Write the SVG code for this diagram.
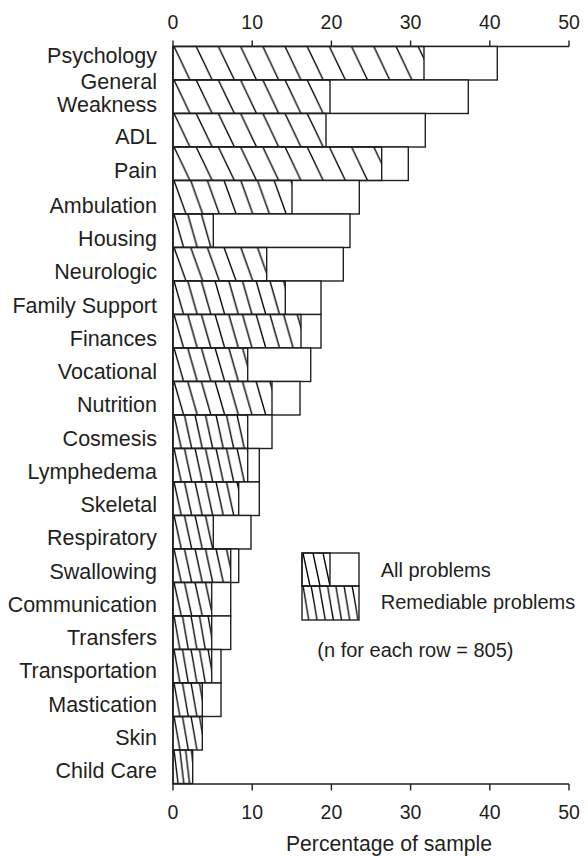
<svg xmlns="http://www.w3.org/2000/svg" width="588" height="856" viewBox="0 0 588 856">
<style>
text{font-family:"Liberation Sans",Arial,sans-serif;fill:#231f20}
.lab{font-size:21.5px;text-anchor:end}
.tick{font-size:19.5px;text-anchor:middle}
.leg{font-size:20px}
.bar{fill:#fff;stroke:#231f20;stroke-width:1.4}
.ax{stroke:#231f20;stroke-width:1.4;fill:none}
.h{stroke:#000;stroke-width:1.35;fill:none}
</style>
<defs>
<pattern id="p22" patternUnits="userSpaceOnUse" x="173" y="46.5" width="22.2" height="33.5"><path class="h" d="M1,0L17,33.5M-21.2,0L-5.2,33.5M23.2,0L39.2,33.5"/></pattern>
<pattern id="p17" patternUnits="userSpaceOnUse" x="173" y="46.5" width="16.7" height="33.5"><path class="h" d="M1,0L13,33.5M-15.7,0L-3.7,33.5M17.7,0L29.7,33.5"/></pattern>
<pattern id="p14" patternUnits="userSpaceOnUse" x="173" y="46.5" width="13.7" height="33.5"><path class="h" d="M1,0L10.6,33.5M-12.7,0L-3.1,33.5M14.7,0L24.3,33.5"/></pattern>
<pattern id="p11" patternUnits="userSpaceOnUse" x="173" y="46.5" width="10.5" height="33.5"><path class="h" d="M1,0L8.3,33.5M-9.5,0L-2.2,33.5M11.5,0L18.8,33.5"/></pattern>
<pattern id="p9" patternUnits="userSpaceOnUse" x="173" y="46.5" width="8.5" height="33.5"><path class="h" d="M1,0L6.9,33.5M-7.5,0L-1.6,33.5M9.5,0L15.4,33.5"/></pattern>
<pattern id="p6" patternUnits="userSpaceOnUse" x="173" y="46.5" width="5.8" height="33.5"><path class="h" d="M1,0L5,33.5M-4.8,0L-0.8,33.5M6.8,0L10.8,33.5"/></pattern>
<pattern id="lg1" patternUnits="userSpaceOnUse" x="302" y="553" width="10" height="33" ><path class="h" d="M1,0L8,33M-9,0L-2,33M11,0L18,33"/></pattern>
<pattern id="lg2" patternUnits="userSpaceOnUse" x="302" y="586" width="8.2" height="34"><path class="h" d="M1,0L6.8,34M-7.2,0L-1.4,34M9.2,0L15,34"/></pattern>
</defs>

<g id="axes">
<path class="ax" d="M173,46.5H569M173,40.5V46.5M252.2,40.5V46.5M331.4,40.5V46.5M410.6,40.5V46.5M489.8,40.5V46.5M569,40.5V46.5"/>
<path class="ax" d="M173,784H569M173,784V790.5M252.2,784V790.5M331.4,784V790.5M410.6,784V790.5M489.8,784V790.5M569,784V790.5"/>
<path class="ax" d="M173,46.5V784"/>
<text class="tick" x="173" y="29.3">0</text><text class="tick" x="252.2" y="29.3">10</text><text class="tick" x="331.4" y="29.3">20</text><text class="tick" x="410.6" y="29.3">30</text><text class="tick" x="489.8" y="29.3">40</text><text class="tick" x="569" y="29.3">50</text>
<text class="tick" x="173" y="818.5">0</text><text class="tick" x="252.2" y="818.5">10</text><text class="tick" x="331.4" y="818.5">20</text><text class="tick" x="410.6" y="818.5">30</text><text class="tick" x="489.8" y="818.5">40</text><text class="tick" x="569" y="818.5">50</text>
<text x="389" y="851" style="font-size:21.2px;text-anchor:middle">Percentage of sample</text>
</g>

<g id="connectors"></g>

<g id="psychology"><text class="lab" x="157" y="62.7">Psychology</text><rect class="bar" x="173" y="46.5" width="324.3" height="33.5"/><rect class="bar" style="fill:url(#p22)" x="173" y="46.5" width="251" height="33.5"/></g>
<g id="general-weakness"><text class="lab" x="157" y="89.3">General</text><text class="lab" x="157" y="111.7">Weakness</text><rect class="bar" x="173" y="80" width="295.3" height="33.5"/><rect class="bar" style="fill:url(#p22)" x="173" y="80" width="157" height="33.5"/></g>
<g id="adl"><text class="lab" x="157" y="144">ADL</text><rect class="bar" x="173" y="113.5" width="252.3" height="33.5"/><rect class="bar" style="fill:url(#p22)" x="173" y="113.5" width="153" height="33.5"/></g>
<g id="pain"><text class="lab" x="157" y="178">Pain</text><rect class="bar" x="173" y="147" width="235.3" height="33.5"/><rect class="bar" style="fill:url(#p22)" x="173" y="147" width="208.7" height="33.5"/></g>
<g id="ambulation"><text class="lab" x="157" y="212.7">Ambulation</text><rect class="bar" x="173" y="180.5" width="186.3" height="33.5"/><rect class="bar" style="fill:url(#p17)" x="173" y="180.5" width="119" height="33.5"/></g>
<g id="housing"><text class="lab" x="157" y="246">Housing</text><rect class="bar" x="173" y="214" width="177" height="33.5"/><rect class="bar" style="fill:url(#p14)" x="173" y="214" width="40.3" height="33.5"/></g>
<g id="neurologic"><text class="lab" x="157" y="279.2">Neurologic</text><rect class="bar" x="173" y="247.5" width="170.3" height="33.5"/><rect class="bar" style="fill:url(#p17)" x="173" y="247.5" width="93.7" height="33.5"/></g>
<g id="family-support"><text class="lab" x="157" y="312.5">Family Support</text><rect class="bar" x="173" y="281" width="148" height="33.5"/><rect class="bar" style="fill:url(#p14)" x="173" y="281" width="112.3" height="33.5"/></g>
<g id="finances"><text class="lab" x="157" y="345.7">Finances</text><rect class="bar" x="173" y="314.5" width="148" height="33.5"/><rect class="bar" style="fill:url(#p14)" x="173" y="314.5" width="128" height="33.5"/></g>
<g id="vocational"><text class="lab" x="157" y="379">Vocational</text><rect class="bar" x="173" y="348" width="137.7" height="33.5"/><rect class="bar" style="fill:url(#p14)" x="173" y="348" width="74.7" height="33.5"/></g>
<g id="nutrition"><text class="lab" x="157" y="412.2">Nutrition</text><rect class="bar" x="173" y="381.5" width="127" height="33.5"/><rect class="bar" style="fill:url(#p14)" x="173" y="381.5" width="99" height="33.5"/></g>
<g id="cosmesis"><text class="lab" x="157" y="445.5">Cosmesis</text><rect class="bar" x="173" y="415" width="99" height="33.5"/><rect class="bar" style="fill:url(#p11)" x="173" y="415" width="74.7" height="33.5"/></g>
<g id="lymphedema"><text class="lab" x="157" y="478.7">Lymphedema</text><rect class="bar" x="173" y="448.5" width="86.3" height="33.5"/><rect class="bar" style="fill:url(#p11)" x="173" y="448.5" width="74.7" height="33.5"/></g>
<g id="skeletal"><text class="lab" x="157" y="512">Skeletal</text><rect class="bar" x="173" y="482" width="86.3" height="33.5"/><rect class="bar" style="fill:url(#p11)" x="173" y="482" width="65.7" height="33.5"/></g>
<g id="respiratory"><text class="lab" x="157" y="545.2">Respiratory</text><rect class="bar" x="173" y="515.5" width="78" height="33.5"/><rect class="bar" style="fill:url(#p11)" x="173" y="515.5" width="40.3" height="33.5"/></g>
<g id="swallowing"><text class="lab" x="157" y="578.5">Swallowing</text><rect class="bar" x="173" y="549" width="65.7" height="33.5"/><rect class="bar" style="fill:url(#p11)" x="173" y="549" width="57.7" height="33.5"/></g>
<g id="communication"><text class="lab" x="157" y="611.7">Communication</text><rect class="bar" x="173" y="582.5" width="57.7" height="33.5"/><rect class="bar" style="fill:url(#p11)" x="173" y="582.5" width="38.7" height="33.5"/></g>
<g id="transfers"><text class="lab" x="157" y="645">Transfers</text><rect class="bar" x="173" y="616" width="57.7" height="33.5"/><rect class="bar" style="fill:url(#p9)" x="173" y="616" width="38.7" height="33.5"/></g>
<g id="transportation"><text class="lab" x="157" y="678.2">Transportation</text><rect class="bar" x="173" y="649.5" width="48" height="33.5"/><rect class="bar" style="fill:url(#p9)" x="173" y="649.5" width="38.7" height="33.5"/></g>
<g id="mastication"><text class="lab" x="157" y="711.5">Mastication</text><rect class="bar" x="173" y="683" width="48" height="33.5"/><rect class="bar" style="fill:url(#p9)" x="173" y="683" width="29.3" height="33.5"/></g>
<g id="skin"><text class="lab" x="157" y="744.7">Skin</text><rect class="bar" style="fill:url(#p9)" x="173" y="716.5" width="29.3" height="33.5"/></g>
<g id="child-care"><text class="lab" x="157" y="778">Child Care</text><rect class="bar" style="fill:url(#p6)" x="173" y="750" width="19.7" height="33.5"/></g>

<g id="legend">
<rect class="bar" x="302" y="553" width="57" height="33"/>
<rect class="bar" style="fill:url(#lg1)" x="302" y="553" width="28" height="33"/>
<rect class="bar" style="fill:url(#lg2)" x="302" y="586" width="57" height="34"/>
<text class="leg" x="380.7" y="576.5">All problems</text>
<text class="leg" x="380.7" y="608.5">Remediable problems</text>
<text class="leg" x="317.3" y="656.7">(n for each row = 805)</text>
</g>
</svg>
